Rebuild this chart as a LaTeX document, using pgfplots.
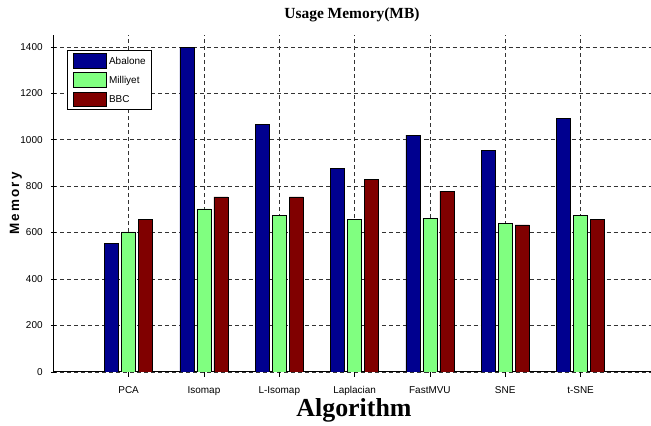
\documentclass[border=0pt]{standalone}
\usepackage{fontspec}
\setmainfont{Liberation Serif}
\newfontfamily\arialish{Liberation Sans}
\usepackage{pgfplots}
\pgfplotsset{compat=1.18}

\definecolor{abalone}{RGB}{0,0,143}
\definecolor{milliyet}{RGB}{128,255,128}
\definecolor{bbc}{RGB}{128,0,0}

\begin{document}
\begin{tikzpicture}
\begin{axis}[
  scale only axis,
  width=597bp, height=336.5bp,
  xmin=0, xmax=7.93, ymin=0, ymax=1450,
  axis x line=bottom, axis y line=left,
  axis line style={-, black, line width=0.8bp},
  xtick={1,...,7},
  xticklabels={PCA,Isomap,L-Isomap,Laplacian,FastMVU,SNE,t-SNE},
  ytick={0,200,...,1400},
  /pgf/number format/1000 sep={},
  tick label style={font=\arialish\fontsize{10}{11}\selectfont,
    /pgf/number format/assume math mode=true, inner sep=0bp},
  xticklabel style={anchor=base, yshift=-17bp},
  yticklabel style={anchor=east, xshift=-8bp},
  major tick length=5bp,
  tick style={black, line width=0.6bp},
  grid=major,
  major grid style={black!80, dash pattern=on 4bp off 3bp, line width=0.6bp},
  ybar=3bp, bar width=14bp,
  title={Usage Memory(MB)},
  title style={font=\bfseries\fontsize{15.5}{17}\selectfont,
    at={(axis description cs:0.5,1)}, anchor=base, yshift=11.2bp},
  xlabel={Algorithm},
  xlabel style={font=\bfseries\fontsize{26}{28}\selectfont,
    at={(axis description cs:0.5,0)}, anchor=base, yshift=-45bp, xshift=2bp},
  ylabel={Memory},
  ylabel style={font=\arialish\bfseries\fontsize{13.5}{15}\selectfont\addfontfeatures{LetterSpace=16},
    at={(axis description cs:0,0.5)}, anchor=center, rotate=0, yshift=37.3bp},
  legend style={at={(0.0235,0.956)}, anchor=north west, draw=black,
    line width=0.8bp, font=\arialish\fontsize{10}{11}\selectfont,
    inner xsep=5.4bp, inner ysep=2.7bp, row sep=4.2bp, column sep=2bp,
    nodes={inner sep=0bp, text depth=0bp},
    legend cell align=left},
  legend image code/.code={\draw[#1, draw=black, line width=0.6bp] (0bp,-7.25bp) rectangle (33.3bp,7.25bp);},
  every axis plot/.append style={draw=black, line width=0.6bp},
]
\addplot[fill=abalone] coordinates {(1,553) (2,1396) (3,1067) (4,876) (5,1020) (6,955) (7,1092)};
\addplot[fill=milliyet] coordinates {(1,603) (2,702) (3,674) (4,657) (5,662) (6,639) (7,674)};
\addplot[fill=bbc] coordinates {(1,657) (2,754) (3,754) (4,829) (5,778) (6,633) (7,657)};
\legend{Abalone,Milliyet,BBC}
\coordinate (boxsw) at (rel axis cs:0,0);
\coordinate (boxne) at (rel axis cs:1,1);
\end{axis}
% fixed page frame around the axis and its labels
\path ([xshift=-53.3bp,yshift=-51.3bp]boxsw) rectangle ([yshift=35.2bp]boxne);
\end{tikzpicture}
\end{document}
